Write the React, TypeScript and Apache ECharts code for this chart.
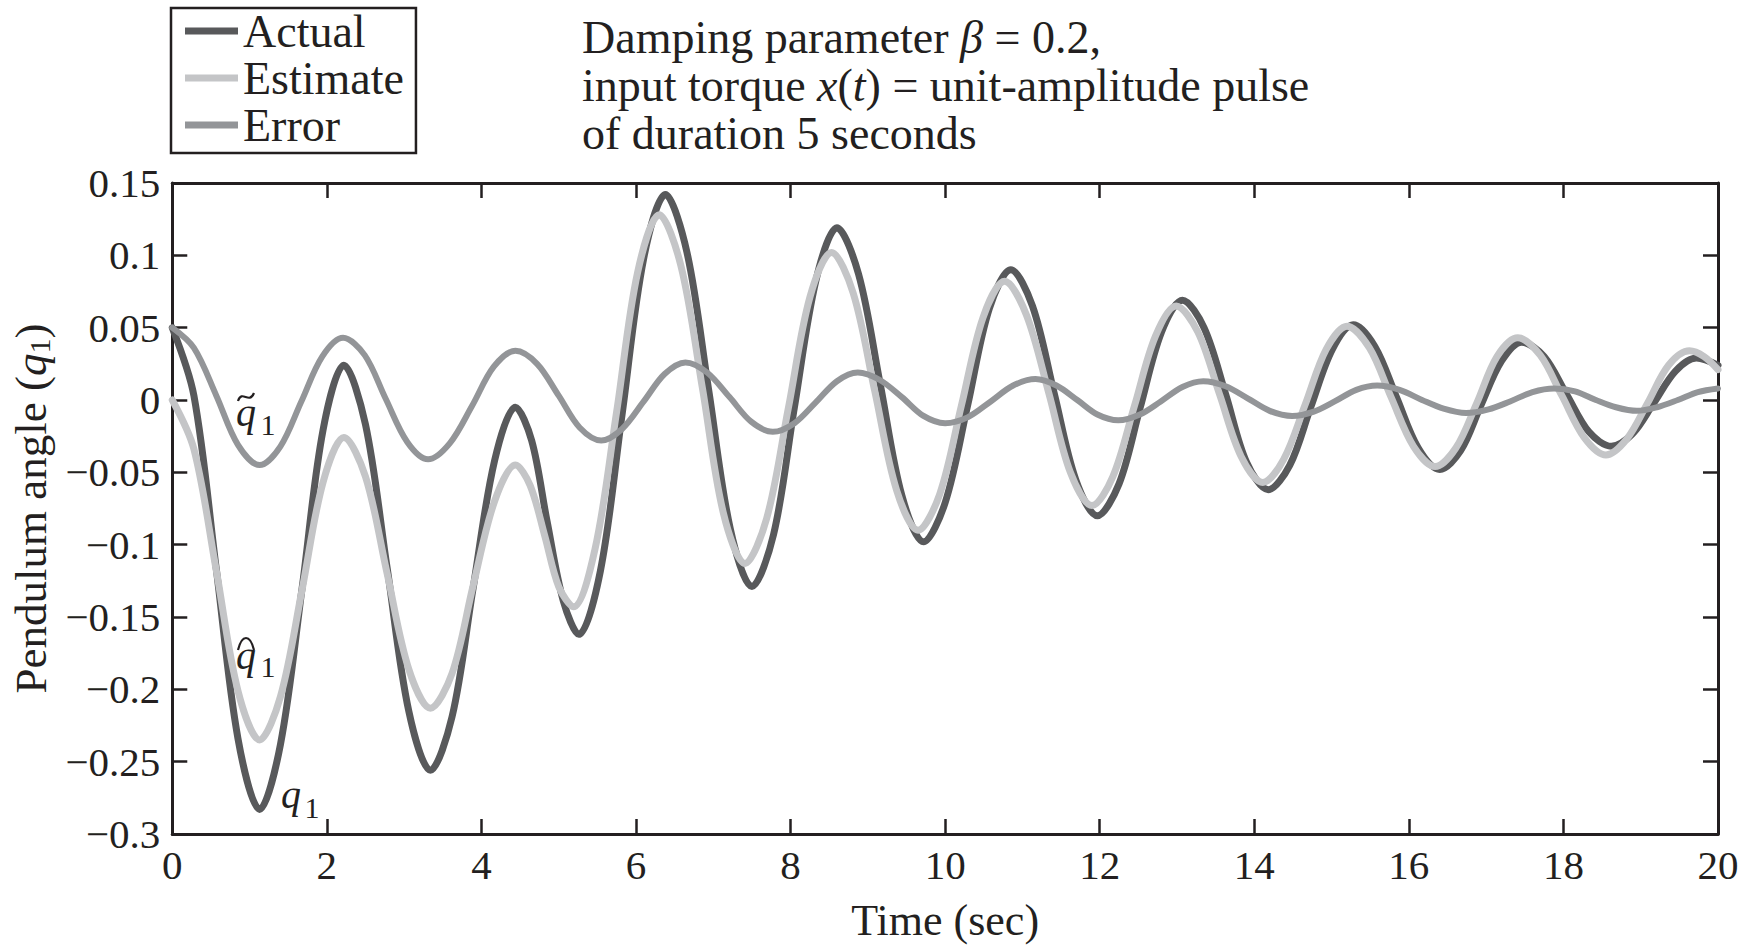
import React, { useEffect, useRef } from "react";
import * as echarts from "echarts";

// ---- Data ----
const actualTime = [
  0, 0.28, 0.57, 0.85, 1.13, 1.4, 1.68, 1.95, 2.22, 2.5, 2.78, 3.06, 3.34, 3.62, 3.89, 4.17, 4.44,
  4.65, 4.85, 5.06, 5.26, 5.54, 5.82, 6.1, 6.38, 6.66, 6.94, 7.22, 7.5, 7.78, 8.05, 8.33, 8.6,
  8.88, 9.16, 9.44, 9.72, 10.0, 10.29, 10.57, 10.85, 11.13, 11.41, 11.69, 11.97, 12.25, 12.52,
  12.8, 13.07, 13.35, 13.63, 13.9, 14.18, 14.46, 14.73, 15.01, 15.28, 15.56, 15.84, 16.12, 16.4,
  16.67, 16.93, 17.2, 17.46, 17.75, 18.04, 18.33, 18.62, 18.9, 19.17, 19.45, 19.72, 20.0,
];
const actualAngle = [
  0.05, 0.003, -0.117, -0.234, -0.283, -0.238, -0.13, -0.021, 0.024, -0.017, -0.116, -0.215, -0.256,
  -0.219, -0.131, -0.042, -0.005, -0.028, -0.084, -0.139, -0.162, -0.118, -0.01, 0.098, 0.142,
  0.102, 0.007, -0.089, -0.129, -0.093, -0.005, 0.083, 0.119, 0.087, 0.011, -0.066, -0.098,
  -0.071, -0.004, 0.063, 0.09, 0.065, 0.005, -0.055, -0.08, -0.058, -0.006, 0.047, 0.069, 0.05,
  0.004, -0.043, -0.062, -0.045, -0.005, 0.035, 0.052, 0.037, 0.002, -0.033, -0.048, -0.035,
  -0.004, 0.027, 0.04, 0.03, 0.004, -0.022, -0.032, -0.023, -0.002, 0.02, 0.029, 0.024,
];

const estimateTime = [
  0, 0.28, 0.57, 0.85, 1.13, 1.4, 1.68, 1.95, 2.22, 2.5, 2.78, 3.06, 3.34, 3.62, 3.89, 4.17, 4.44,
  4.63, 4.82, 5.0, 5.19, 5.47, 5.75, 6.02, 6.3, 6.58, 6.86, 7.13, 7.41, 7.69, 7.97, 8.25, 8.53,
  8.81, 9.09, 9.37, 9.65, 9.93, 10.21, 10.49, 10.77, 11.05, 11.34, 11.62, 11.9, 12.17, 12.45,
  12.72, 12.99, 13.27, 13.55, 13.83, 14.11, 14.38, 14.66, 14.93, 15.2, 15.49, 15.77, 16.06, 16.34,
  16.61, 16.88, 17.14, 17.41, 17.7, 17.98, 18.27, 18.55, 18.82, 19.09, 19.36, 19.63, 19.82, 20.0,
];
const estimateAngle = [
  0.0, -0.034, -0.118, -0.201, -0.235, -0.205, -0.131, -0.057, -0.026, -0.053, -0.12, -0.186,
  -0.213, -0.189, -0.129, -0.07, -0.045, -0.059, -0.094, -0.129, -0.143, -0.103, -0.008, 0.088,
  0.128, 0.093, 0.008, -0.078, -0.113, -0.082, -0.006, 0.071, 0.102, 0.074, 0.006, -0.062, -0.09,
  -0.065, -0.004, 0.057, 0.082, 0.059, 0.005, -0.05, -0.073, -0.053, -0.004, 0.044, 0.065, 0.047,
  0.004, -0.039, -0.057, -0.041, -0.003, 0.035, 0.051, 0.036, 0.002, -0.032, -0.046, -0.033,
  -0.002, 0.03, 0.043, 0.031, 0.003, -0.026, -0.038, -0.027, -0.002, 0.024, 0.034, 0.03, 0.021,
];

const errorTime = [
  0, 0.28, 0.57, 0.85, 1.13, 1.4, 1.67, 1.94, 2.21, 2.49, 2.76, 3.04, 3.31, 3.59, 3.88, 4.16, 4.44,
  4.72, 5.0, 5.27, 5.55, 5.82, 6.1, 6.37, 6.64, 6.92, 7.21, 7.49, 7.77, 8.05, 8.32, 8.6, 8.87,
  9.15, 9.44, 9.72, 10.0, 10.29, 10.59, 10.88, 11.17, 11.44, 11.71, 11.97, 12.24, 12.52, 12.79,
  13.07, 13.34, 13.63, 13.92, 14.2, 14.49, 14.77, 15.04, 15.32, 15.59, 15.88, 16.17, 16.45, 16.74,
  17.03, 17.31, 17.6, 17.88, 18.15, 18.42, 18.68, 18.95, 19.21, 19.48, 19.74, 20.0,
];
const errorAngle = [
  0.05, 0.036, 0.003, -0.031, -0.045, -0.032, -0.001, 0.03, 0.043, 0.031, 0.001, -0.029, -0.041,
  -0.03, -0.004, 0.023, 0.034, 0.025, 0.003, -0.019, -0.028, -0.02, -0.001, 0.018, 0.026, 0.019,
  0.002, -0.015, -0.022, -0.016, -0.002, 0.013, 0.019, 0.014, 0.002, -0.011, -0.016, -0.012,
  -0.001, 0.01, 0.0145, 0.01, 0.0, -0.01, -0.014, -0.01, -0.001, 0.009, 0.013, 0.0095, 0.001,
  -0.0075, -0.011, -0.008, -0.001, 0.007, 0.01, 0.007, 0.0, -0.006, -0.009, -0.0065, -0.001,
  0.0055, 0.008, 0.006, 0.0, -0.005, -0.0075, -0.005, 0.0, 0.0055, 0.008,
];

const seriesNames = ["Actual", "Estimate", "Error"];
const seriesColors = ["#58595b", "#c4c5c7", "#939598"];
const seriesWidths = [7, 7, 6];

const xMin = 0;
const xMax = 20;
const xStep = 2;
const yMin = -0.3;
const yMax = 0.15;
const yStep = 0.05;

const FONT = "'Liberation Serif', 'Times New Roman', serif";
const INK = "#231f20";

function pairs(t: number[], v: number[]) {
  return t.map((x, i) => [x, v[i]]);
}

function yLabel(v: number) {
  const r = Math.round(v * 100) / 100;
  if (r === 0) return "0";
  return (r < 0 ? "\u2212" : "") + String(Math.abs(r));
}

function label(x: number, y: number, text: string, font: string) {
  return {
    type: "text",
    x,
    y,
    style: { text, font, fill: INK, align: "center", verticalAlign: "middle" },
  };
}

export default function App() {
  const ref = useRef<HTMLDivElement>(null);

  useEffect(() => {
    if (!ref.current) return;
    const chart = echarts.init(ref.current, undefined, { renderer: "svg" });

    const axisLine = { show: true, onZero: false, lineStyle: { color: INK, width: 3 } };
    const axisTick = { show: true, inside: true, length: 15, lineStyle: { color: INK, width: 2.5 } };

    const dataSets = [
      pairs(actualTime, actualAngle),
      pairs(estimateTime, estimateAngle),
      pairs(errorTime, errorAngle),
    ];

    const qFont = `italic 40px ${FONT}`;
    const subFont = `30px ${FONT}`;

    const option: any = {
      animation: false,
      backgroundColor: "#ffffff",
      grid: { left: 172, right: 36, top: 183, bottom: 108 },
      legend: {
        orient: "vertical",
        left: 171,
        top: 8,
        data: seriesNames,
        icon: "rect",
        itemWidth: 53,
        itemHeight: 7,
        itemGap: 1,
        padding: [0, 12, 5, 14],
        borderColor: INK,
        borderWidth: 2.5,
        textStyle: { fontFamily: FONT, fontSize: 46, color: INK, lineHeight: 44 },
      },
      xAxis: [
        {
          type: "value",
          min: xMin,
          max: xMax,
          interval: xStep,
          position: "bottom",
          axisLine,
          axisTick,
          splitLine: { show: false },
          axisLabel: { fontFamily: FONT, fontSize: 41, color: INK, margin: 10 },
          name: "Time (sec)",
          nameLocation: "middle",
          nameGap: 64,
          nameTextStyle: { fontFamily: FONT, fontSize: 44, color: INK },
        },
        {
          type: "value",
          min: xMin,
          max: xMax,
          interval: xStep,
          position: "top",
          axisLine,
          axisTick,
          splitLine: { show: false },
          axisLabel: { show: false },
        },
      ],
      yAxis: [
        {
          type: "value",
          min: yMin,
          max: yMax,
          interval: yStep,
          position: "left",
          axisLine,
          axisTick,
          splitLine: { show: false },
          axisLabel: { fontFamily: FONT, fontSize: 41, color: INK, margin: 12, formatter: yLabel },
          name: "{n|Pendulum angle (}{i|q}{s|1}{n|)}",
          nameLocation: "middle",
          nameGap: 116,
          nameRotate: 90,
          nameTextStyle: {
            fontFamily: FONT,
            fontSize: 44,
            color: INK,
            rich: {
              n: { fontFamily: FONT, fontSize: 45, color: INK },
              i: { fontFamily: FONT, fontSize: 45, fontStyle: "italic", color: INK },
              s: { fontFamily: FONT, fontSize: 30, color: INK, padding: [18, 0, 0, 0] },
            },
          },
        },
        {
          type: "value",
          min: yMin,
          max: yMax,
          interval: yStep,
          position: "right",
          axisLine,
          axisTick,
          splitLine: { show: false },
          axisLabel: { show: false },
        },
      ],
      graphic: [
        {
          type: "text",
          left: 582,
          top: 14,
          style: {
            text:
              "{n|Damping parameter }{i|β}{n| = 0.2,}\n" +
              "{n|input torque }{i|x}{n|(}{i|t}{n|) = unit-amplitude pulse}\n" +
              "{n|of duration 5 seconds}",
            fill: INK,
            rich: {
              n: { fontFamily: FONT, fontSize: 46, lineHeight: 48, fill: INK },
              i: { fontFamily: FONT, fontSize: 46, lineHeight: 48, fontStyle: "italic", fill: INK },
            },
          },
        },
        // q-tilde label (error)
        label(246, 412, "q", qFont),
        label(268, 424, "1", subFont),
        {
          type: "bezierCurve",
          shape: { x1: 238, y1: 401, cpx1: 242, cpy1: 389, cpx2: 249, cpy2: 405, x2: 254, y2: 393 },
          style: { stroke: INK, lineWidth: 2.2, fill: "none" },
        },
        // q-hat label (estimate)
        label(246, 655, "q", qFont),
        label(268, 666, "1", subFont),
        {
          type: "bezierCurve",
          shape: { x1: 238, y1: 650, cpx1: 242, cpy1: 634, cpx2: 250, cpy2: 634, x2: 254, y2: 650 },
          style: { stroke: INK, lineWidth: 2.2, fill: "none" },
        },
        // q label (actual)
        label(291, 794, "q", qFont),
        label(312, 807, "1", subFont),
      ],
      series: seriesNames.map((name, i) => ({
        name,
        type: "line",
        xAxisIndex: 0,
        yAxisIndex: 0,
        data: dataSets[i],
        smooth: 0.33,
        showSymbol: false,
        symbol: "none",
        itemStyle: { color: seriesColors[i] },
        lineStyle: { color: seriesColors[i], width: seriesWidths[i], cap: "round", join: "round" },
        z: 2 + i,
      })),
    };

    chart.setOption(option);
    return () => chart.dispose();
  }, []);

  return (
    <div
      ref={ref}
      style={{ position: "absolute", left: 0, top: 0, width: 1754, height: 947, background: "#fff" }}
    />
  );
}
